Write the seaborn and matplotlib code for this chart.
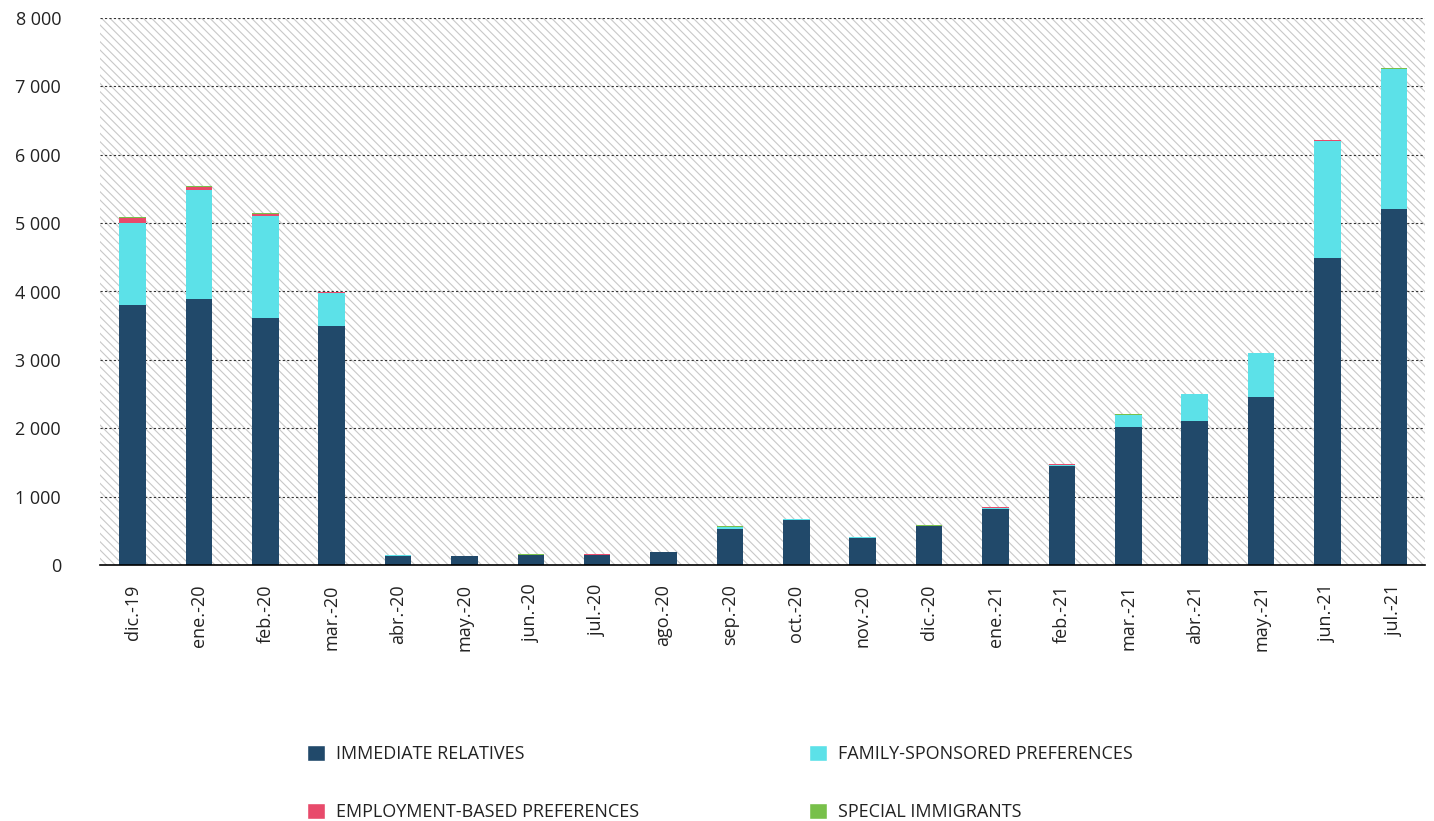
import matplotlib
matplotlib.use("Agg")
import matplotlib.pyplot as plt
import seaborn as sns
import numpy as np
import pandas as pd
from matplotlib.patches import Rectangle, Patch
from matplotlib.ticker import FuncFormatter, MultipleLocator

months = ["dic.-19", "ene.-20", "feb.-20", "mar.-20", "abr.-20", "may.-20", "jun.-20",
          "jul.-20", "ago.-20", "sep.-20", "oct.-20", "nov.-20", "dic.-20", "ene.-21",
          "feb.-21", "mar.-21", "abr.-21", "may.-21", "jun.-21", "jul.-21"]
immediate = [3800, 3890, 3610, 3490, 130, 125, 145, 145, 185, 525, 655, 395, 565, 818,
             1447, 2018, 2105, 2456, 4488, 5205]
family = [1200, 1600, 1490, 487, 10, 3, 5, 3, 8, 28, 15, 8, 5, 22,
          20, 175, 395, 644, 1710, 2046]
employment = [80, 45, 40, 15, 2, 2, 3, 12, 2, 4, 3, 2, 3, 5,
              10, 5, 3, 3, 15, 8]
special = [5, 15, 10, 5, 2, 2, 10, 2, 2, 8, 3, 2, 10, 8,
           5, 15, 5, 3, 5, 12]

series_names = ["IMMEDIATE RELATIVES", "FAMILY-SPONSORED PREFERENCES",
                "EMPLOYMENT-BASED PREFERENCES", "SPECIAL IMMIGRANTS"]
colors = ["#21496a", "#5ce1e8", "#e84a6b", "#78c04a"]

sns.set_theme(style="white")
plt.rcParams["font.family"] = ["Open Sans", "DejaVu Sans"]
plt.rcParams["hatch.linewidth"] = 0.8

fig = plt.figure(figsize=(14.34, 8.21), dpi=100)
ax = fig.add_axes([100 / 1434, 1 - 565 / 821, 1325 / 1434, 547 / 821])

# hatched background
bg = Rectangle((0, 0), 1, 1, transform=ax.transAxes, facecolor="white",
               edgecolor="#c8c8c8", hatch="\\" * 4, linewidth=0, zorder=0)
ax.add_patch(bg)

df = pd.DataFrame({"month": months, "ir": immediate, "fsp": family,
                   "ebp": employment, "si": special})
layers = [df["ir"], df["ir"] + df["fsp"], df["ir"] + df["fsp"] + df["ebp"],
          df["ir"] + df["fsp"] + df["ebp"] + df["si"]]

for i in range(3, -1, -1):
    sns.barplot(x=df["month"], y=layers[i], color=colors[i], width=0.4,
                saturation=1, ax=ax, zorder=3, linewidth=0)

ax.set_xlim(-0.49, 19.47)
ax.set_ylim(0, 8000)
ax.yaxis.set_major_locator(MultipleLocator(1000))
ax.yaxis.set_major_formatter(FuncFormatter(lambda v, p: f"{int(v):,}".replace(",", " ")))
ax.grid(axis="y", color="#333333", linestyle=(0, (2, 2)), linewidth=0.8, zorder=1)
for gl in ax.yaxis.get_gridlines():
    gl.set_zorder(1)
ax.set_xlabel("")
ax.set_ylabel("")
for s in ["top", "right", "left"]:
    ax.spines[s].set_visible(False)
ax.spines["bottom"].set_color("black")
ax.spines["bottom"].set_linewidth(1.2)
ax.spines["bottom"].set_zorder(5)

ax.tick_params(axis="x", length=0, pad=14, labelsize=13, labelcolor="#222222",
               labelrotation=90)
ax.tick_params(axis="y", length=0, pad=28, labelsize=13, labelcolor="#222222")

order = [series_names[0], series_names[2], series_names[1], series_names[3]]
leg_handles = [Patch(facecolor=colors[series_names.index(n)]) for n in order]
leg = fig.legend(leg_handles, order, ncol=2, loc="upper left",
                 bbox_to_anchor=(300 / 1434, 1 - 738 / 821),
                 frameon=False, fontsize=13, handlelength=1.0, handleheight=1.0,
                 handletextpad=0.6, columnspacing=9.4, labelspacing=2.2,
                 borderaxespad=0)
for t in leg.get_texts():
    t.set_color("#222222")

fig.savefig("out.png", dpi=100)
